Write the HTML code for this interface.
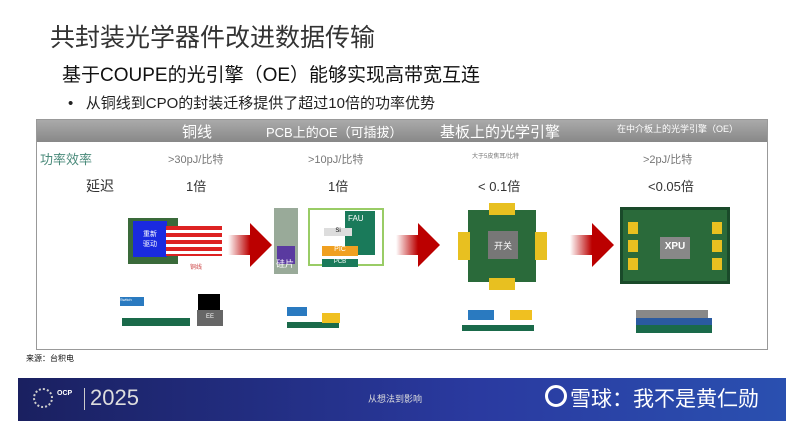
<!DOCTYPE html>
<html><head><meta charset="utf-8"><style>
body{margin:0;width:800px;height:421px;background:#fff;position:relative;overflow:hidden;font-family:"Liberation Sans","Noto Sans CJK SC",sans-serif}
div{position:absolute;box-sizing:border-box}
.t{white-space:nowrap}
.arrow{width:0;height:0;border-top:22px solid transparent;border-bottom:22px solid transparent;border-left:22px solid #b00}
.shaft{height:20px;background:linear-gradient(90deg,#fff,#b00)}
</style></head><body>
<div class="t" style="left:50px;top:18px;font-size:25px;color:#333">共封装光学器件改进数据传输</div>
<div class="t" style="left:62px;top:60px;font-size:19px;color:#111">基于COUPE的光引擎（OE）能够实现高带宽互连</div>
<div class="t" style="left:68px;top:92px;font-size:15px;color:#222">•&nbsp;&nbsp;&nbsp;从铜线到CPO的封装迁移提供了超过10倍的功率优势</div>
<div style="left:36px;top:119px;width:732px;height:231px;border:1px solid #999"></div>
<div style="left:37px;top:120px;width:730px;height:22px;background:linear-gradient(#aaa,#888)"></div>
<div class="t" style="left:182px;top:121px;font-size:15px;color:#fff">铜线</div>
<div class="t" style="left:266px;top:122px;font-size:13px;color:#fff">PCB上的OE（可插拔）</div>
<div class="t" style="left:440px;top:121px;font-size:15px;color:#fff">基板上的光学引擎</div>
<div class="t" style="left:617px;top:122px;font-size:9px;color:#fff">在中介板上的光学引擎（OE）</div>
<div class="t" style="left:40px;top:149px;font-size:13px;color:#4a8a7a">功率效率</div>
<div class="t" style="left:168px;top:151px;font-size:11px;color:#777">&gt;30pJ/比特</div>
<div class="t" style="left:308px;top:151px;font-size:11px;color:#777">&gt;10pJ/比特</div>
<div class="t" style="left:472px;top:151px;font-size:6px;color:#777">大于5皮焦耳/比特</div>
<div class="t" style="left:643px;top:151px;font-size:11px;color:#777">&gt;2pJ/比特</div>
<div class="t" style="left:86px;top:176px;font-size:14px;color:#333">延迟</div>
<div class="t" style="left:186px;top:176px;font-size:13px;color:#333">1倍</div>
<div class="t" style="left:328px;top:176px;font-size:13px;color:#333">1倍</div>
<div class="t" style="left:478px;top:176px;font-size:13px;color:#333">&lt; 0.1倍</div>
<div class="t" style="left:648px;top:176px;font-size:13px;color:#333">&lt;0.05倍</div>
<!-- copper -->
<div style="left:128px;top:218px;width:50px;height:46px;background:#3a6a3a"></div>
<div style="left:133px;top:221px;width:34px;height:36px;background:#1a2ae0;color:#fff;font-size:7px;text-align:center;padding-top:8px">重新<br>驱动</div>
<div style="left:166px;top:226px;width:56px;height:30px;background:repeating-linear-gradient(#d22 0 4px,#fff 4px 7px)"></div>
<div class="t" style="left:190px;top:262px;font-size:6px;color:#c44">铜线</div>
<div class="shaft" style="left:228px;top:235px;width:22px"></div><div class="arrow" style="left:250px;top:223px"></div>
<!-- pluggable -->
<div style="left:274px;top:208px;width:24px;height:66px;background:#9a9;"></div>
<div style="left:277px;top:246px;width:18px;height:18px;background:#5a3aa0"></div>
<div class="t" style="left:276px;top:257px;font-size:9px;color:#fff">硅片</div>
<div style="left:308px;top:208px;width:76px;height:58px;border:2px solid #9c6;background:#fff"></div>
<div style="left:345px;top:211px;width:30px;height:44px;background:#1a7a5a;color:#fff;font-size:8px;padding:3px">FAU</div>
<div style="left:324px;top:228px;width:28px;height:8px;background:#ddd;font-size:6px;text-align:center">Si</div>
<div style="left:322px;top:246px;width:36px;height:10px;background:#f0a020;color:#fff;font-size:7px;text-align:center">PIC</div>
<div style="left:322px;top:259px;width:36px;height:8px;background:#1a7a5a;color:#fff;font-size:6px;text-align:center">PCB</div>
<div class="shaft" style="left:396px;top:235px;width:22px"></div><div class="arrow" style="left:418px;top:223px"></div>
<!-- substrate -->
<div style="left:468px;top:210px;width:68px;height:72px;background:#2a6a3a"></div>
<div style="left:488px;top:231px;width:30px;height:28px;background:#777;color:#fff;font-size:9px;text-align:center;padding-top:8px">开关</div>
<div style="left:489px;top:203px;width:26px;height:12px;background:#e8c020"></div>
<div style="left:489px;top:278px;width:26px;height:12px;background:#e8c020"></div>
<div style="left:458px;top:232px;width:12px;height:28px;background:#e8c020"></div>
<div style="left:535px;top:232px;width:12px;height:28px;background:#e8c020"></div>
<div class="shaft" style="left:570px;top:235px;width:22px"></div><div class="arrow" style="left:592px;top:223px"></div>
<!-- interposer -->
<div style="left:620px;top:207px;width:110px;height:77px;background:#2a6a3a;border:3px solid #1a4a2a"></div>
<div style="left:660px;top:237px;width:30px;height:22px;background:#888;color:#fff;font-size:10px;font-weight:bold;text-align:center;padding-top:4px">XPU</div>
<div style="left:628px;top:222px;width:10px;height:52px;background:repeating-linear-gradient(#e8c020 0 12px,#2a6a3a 12px 18px)"></div>
<div style="left:712px;top:222px;width:10px;height:52px;background:repeating-linear-gradient(#e8c020 0 12px,#2a6a3a 12px 18px)"></div>
<!-- bottom stacks -->
<div style="left:120px;top:297px;width:24px;height:9px;background:#2a7ac0;font-size:4px;color:#fff">Switch</div>
<div style="left:122px;top:318px;width:68px;height:8px;background:#1a6a4a"></div>
<div style="left:198px;top:294px;width:22px;height:20px;background:#000"></div>
<div style="left:197px;top:310px;width:26px;height:16px;background:#666;color:#fff;font-size:6px;text-align:center;padding-top:4px">EE</div>
<div style="left:287px;top:307px;width:20px;height:9px;background:#2a7ac0"></div>
<div style="left:287px;top:322px;width:52px;height:6px;background:#1a6a4a"></div>
<div style="left:322px;top:313px;width:18px;height:10px;background:#f0c020"></div>
<div style="left:468px;top:310px;width:26px;height:10px;background:#2a7ac0"></div>
<div style="left:510px;top:310px;width:22px;height:10px;background:#f0c020"></div>
<div style="left:462px;top:325px;width:72px;height:6px;background:#1a6a4a"></div>
<div style="left:636px;top:310px;width:72px;height:8px;background:#888"></div>
<div style="left:636px;top:318px;width:76px;height:7px;background:#2a5aa0"></div>
<div style="left:636px;top:325px;width:76px;height:8px;background:#1a6a4a"></div>
<div class="t" style="left:26px;top:353px;font-size:8px;color:#111">来源：台积电</div>
<!-- footer -->
<div style="left:18px;top:378px;width:768px;height:43px;background:linear-gradient(90deg,#1a2060,#2a3aa0 60%,#2a50b0)"></div>
<div style="left:33px;top:388px;width:20px;height:20px;border-radius:50%;border:2px dotted #ccc"></div>
<div class="t" style="left:57px;top:390px;font-size:7px;color:#fff;font-weight:bold">OCP</div>
<div style="left:84px;top:388px;width:1px;height:22px;background:#ccc"></div>
<div class="t" style="left:90px;top:385px;font-size:22px;color:#ddd">2025</div>
<div class="t" style="left:368px;top:392px;font-size:9px;color:#ddd">从想法到影响</div>
<div style="left:545px;top:385px;width:22px;height:22px;border-radius:50%;border:3px solid #fff"></div>
<div class="t" style="left:570px;top:383px;font-size:21px;color:#fff">雪球：我不是黄仁勋</div>
</body></html>
